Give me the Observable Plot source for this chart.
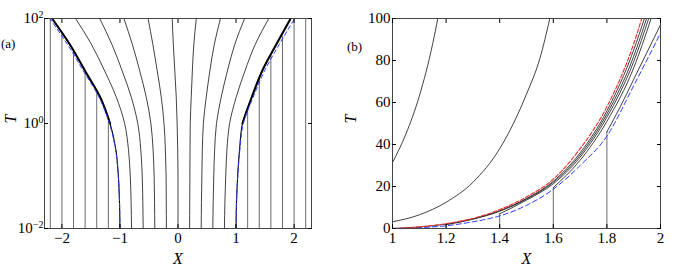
<!DOCTYPE html>
<html><head><meta charset="utf-8">
<script src="https://cdn.jsdelivr.net/npm/d3@7"></script>
<script src="https://cdn.jsdelivr.net/npm/@observablehq/plot@0.6"></script>
<style>
body{margin:0;background:#fff;}
#wrap{position:relative;width:692px;height:266px;font-family:"Liberation Serif","Times New Roman",serif;color:#000;}
#a{position:absolute;left:0;top:0;}
#b{position:absolute;left:340px;top:0;}
.lab{position:absolute;font-size:13px;line-height:14px;}
</style></head><body>
<div id="wrap"><div id="a"></div><div id="b"></div>
<div class="lab" style="left:1px;top:37px">(a)</div>
<div class="lab" style="left:347px;top:40px">(b)</div>
</div>
<script>
// ---------- Panel (a) data: X position of each curve at these T levels ----------
const tLevels = [0.01, 0.0316, 0.1, 0.316, 1, 3.16, 10, 31.6, 100];
const interiorX0 = [-0.8, -0.6, -0.4, -0.2, 0, 0.2, 0.4, 0.6, 0.8];
const interiorX = [
  [-0.8, -0.808, -0.822, -0.853, -0.919, -1.062, -1.263, -1.488, -1.764],
  [-0.6, -0.606, -0.616, -0.641, -0.693, -0.804, -0.961, -1.136, -1.348],
  [-0.4, -0.404, -0.411, -0.429, -0.467, -0.546, -0.659, -0.784, -0.932],
  [-0.2, -0.202, -0.205, -0.217, -0.241, -0.288, -0.357, -0.432, -0.516],
  [0, 0, 0, -0.005, -0.015, -0.03, -0.055, -0.08, -0.1],
  [0.2, 0.202, 0.205, 0.207, 0.211, 0.228, 0.247, 0.272, 0.316],
  [0.4, 0.404, 0.411, 0.419, 0.437, 0.486, 0.549, 0.624, 0.732],
  [0.6, 0.606, 0.616, 0.631, 0.663, 0.744, 0.851, 0.976, 1.148],
  [0.8, 0.808, 0.822, 0.843, 0.889, 1.002, 1.153, 1.328, 1.564]
];
const envLeftX  = [-1.0, -1.008, -1.027, -1.07, -1.17, -1.34, -1.6, -1.86, -2.17];
const envRightX = [1.0, 1.008, 1.028, 1.06, 1.11, 1.27, 1.45, 1.69, 1.94];
const blueLeftX  = [-1.0, -1.008, -1.029, -1.075, -1.18, -1.36, -1.63, -1.9, -2.21];
const blueRightX = [1.0, 1.008, 1.03, 1.066, 1.125, 1.295, 1.49, 1.74, 2.01];
const vertAX   = [-2.2, -2.0, -1.8, -1.6, -1.4, -1.2, 1.2, 1.4, 1.6, 1.8, 2.0, 2.2];
const vertATop = [100, 50, 24, 9.5, 3.9, 1.2, 1.8, 7, 19.5, 46, 100, 100];
const xTicksA = [-2, -1, 0, 1, 2];
const yTicksA = [0.01, 1, 100];
const yTickExpA = ["−2", "0", "2"];

// ---------- Panel (b) data ----------
const curve1X = [1.0, 1.05, 1.1, 1.15, 1.169];
const curve1T = [31.4, 45, 63, 88, 100];
const curve2X = [1.0, 1.1, 1.2, 1.3, 1.4, 1.5, 1.55, 1.587];
const curve2T = [3.2, 6.5, 12.5, 22, 38, 64, 81, 100];
const redX  = [1.0, 1.1, 1.2, 1.3, 1.4, 1.5, 1.6, 1.7, 1.8, 1.9, 1.93];
const redT  = [0, 0.8, 2.3, 4.8, 9, 15, 23.5, 38, 58, 88, 100];
const bundleX = [
  [1.0, 1.1, 1.2, 1.3, 1.4, 1.5, 1.6, 1.7, 1.8, 1.9, 1.94],
  [1.2, 1.3, 1.4, 1.5, 1.6, 1.7, 1.8, 1.9, 1.948],
  [1.4, 1.5, 1.6, 1.7, 1.8, 1.9, 1.956],
  [1.6, 1.7, 1.8, 1.9, 1.965],
  [1.8, 1.85, 1.9, 1.95, 2.0]
];
const bundleT = [
  [0, 0.7, 2.1, 4.6, 8.5, 14.3, 22.5, 36, 56, 85, 100],
  [1.8, 4.4, 8.2, 14, 22, 35, 54.5, 82, 100],
  [7, 13.5, 21.3, 34, 53, 79.5, 100],
  [19.5, 32.5, 51, 76.5, 100],
  [46, 58, 71, 84, 97]
];
const blueX = [1.0, 1.1, 1.2, 1.3, 1.4, 1.5, 1.6, 1.7, 1.8, 1.9, 2.0];
const blueT = [0, 0.4, 1.3, 3.2, 6, 11, 18.7, 30, 44, 68, 93];
const vertBX   = [1.2, 1.4, 1.6, 1.8];
const vertBTop = [1.8, 7, 19.5, 46];
const xTicksB = [1, 1.2, 1.4, 1.6, 1.8, 2];
const yTicksB = [0, 20, 40, 60, 80, 100];

// ---------- build rows ----------
const interiorRows = interiorX0.flatMap((x0, i) => tLevels.map((t, j) => ({id: i, x: interiorX[i][j], t})));
const envRows = [...tLevels.map((t, j) => ({side: "L", x: envLeftX[j], t})), ...tLevels.map((t, j) => ({side: "R", x: envRightX[j], t}))];
const blueARows = [...tLevels.map((t, j) => ({side: "L", x: blueLeftX[j], t})), ...tLevels.map((t, j) => ({side: "R", x: blueRightX[j], t}))];
const vertARows = vertAX.map((x, i) => ({x, top: vertATop[i]}));

const font = "Liberation Serif, Times New Roman, serif";
const fmtMinus = d => (d < 0 ? "−" + (-d) : String(d));

const A = Plot.plot({
  width: 340, height: 266, marginLeft: 44, marginRight: 29, marginTop: 18, marginBottom: 38,
  style: {fontFamily: font, fontSize: "15px", color: "#000", background: "transparent", overflow: "visible"},
  x: {domain: [-2.3, 2.3]},
  y: {type: "log", domain: [0.01, 100]},
  marks: [
    Plot.ruleX(vertARows, {x: "x", y1: () => tLevels[0], y2: "top", stroke: "#6a6a6a", strokeWidth: 1}),
    Plot.line(interiorRows, {x: "x", y: "t", z: "id", curve: "monotone-y", stroke: "#111", strokeWidth: 0.8, clip: true}),
    Plot.line(envRows, {x: "x", y: "t", z: "side", curve: "monotone-y", stroke: "#000", strokeWidth: 1.1, clip: true}),
    Plot.line(envRows.filter(d => d.t >= 1), {x: "x", y: "t", z: "side", curve: "monotone-y", stroke: "#000", strokeWidth: 2, clip: true}),
    Plot.line(blueARows, {x: "x", y: "t", z: "side", curve: "monotone-y", stroke: "#2a3cff", strokeWidth: 1, strokeDasharray: "4,3", clip: true}),
    Plot.frame({stroke: "#444", strokeWidth: 1}),
    Plot.axisX(xTicksA, {anchor: "bottom", tickSize: -4, tickPadding: 8, tickFormat: fmtMinus, label: null}),
    Plot.axisX(xTicksA, {anchor: "top", tickSize: -4, tickFormat: () => "", label: null}),
    Plot.axisY(yTicksA, {anchor: "left", tickSize: -4, tickPadding: 5, tickFormat: d => "10|" + yTickExpA[yTicksA.indexOf(d)], label: null}),
    Plot.axisY(yTicksA, {anchor: "right", tickSize: -4, tickFormat: () => "", label: null}),
    Plot.text(["X"], {frameAnchor: "bottom", dy: 30, lineAnchor: "middle", fontStyle: "italic", fontSize: 16}),
    Plot.text(["T"], {frameAnchor: "left", dx: -34, rotate: -90, fontStyle: "italic", fontSize: 16})
  ]
});
d3.select(A).selectAll('g[aria-label="y-axis tick label"] text').each(function () {
  const s = this.textContent;
  if (!s.includes("|")) return;
  const [b, e] = s.split("|");
  const t = d3.select(this);
  t.text(b);
  t.append("tspan").attr("dy", "-0.55em").attr("font-size", "10px").text(e);
});
document.getElementById("a").appendChild(A);

const lineRows = (xs, ts, id) => xs.map((x, i) => ({id, x, t: ts[i]}));
const blackRows = [
  ...lineRows(curve1X, curve1T, "c1"),
  ...lineRows(curve2X, curve2T, "c2"),
  ...bundleX.flatMap((xs, k) => lineRows(xs, bundleT[k], "b" + k))
];
const vertBRows = vertBX.map((x, i) => ({x, top: vertBTop[i]}));

const B = Plot.plot({
  width: 352, height: 266, marginLeft: 52, marginRight: 32, marginTop: 18, marginBottom: 38,
  style: {fontFamily: font, fontSize: "15px", color: "#000", background: "transparent", overflow: "visible"},
  x: {domain: [1, 2]},
  y: {domain: [0, 100]},
  marks: [
    Plot.ruleX(vertBRows, {x: "x", y1: () => yTicksB[0], y2: "top", stroke: "#6a6a6a", strokeWidth: 1}),
    Plot.line(lineRows(blueX, blueT, "blue"), {x: "x", y: "t", curve: "monotone-x", stroke: "#2a3cff", strokeWidth: 1, strokeDasharray: "5,3", clip: true}),
    Plot.line(blackRows, {x: "x", y: "t", z: "id", curve: "monotone-x", stroke: "#111", strokeWidth: 0.8, clip: true}),
    Plot.line(lineRows(redX, redT, "red"), {x: "x", y: "t", curve: "monotone-x", stroke: "#f02a2a", strokeWidth: 1.1, strokeDasharray: "4,2", clip: true}),
    Plot.frame({stroke: "#444", strokeWidth: 1}),
    Plot.axisX(xTicksB, {anchor: "bottom", tickSize: -4, tickPadding: 8, tickFormat: d => String(d), label: null}),
    Plot.axisX(xTicksB, {anchor: "top", tickSize: -4, tickFormat: () => "", label: null}),
    Plot.axisY(yTicksB, {anchor: "left", tickSize: -4, tickPadding: 6, tickFormat: d => String(d), label: null}),
    Plot.axisY(yTicksB, {anchor: "right", tickSize: -4, tickFormat: () => "", label: null}),
    Plot.text(["X"], {frameAnchor: "bottom", dy: 30, lineAnchor: "middle", fontStyle: "italic", fontSize: 16}),
    Plot.text(["T"], {frameAnchor: "left", dx: -42, rotate: -90, fontStyle: "italic", fontSize: 16})
  ]
});
document.getElementById("b").appendChild(B);
</script>
</body></html>
